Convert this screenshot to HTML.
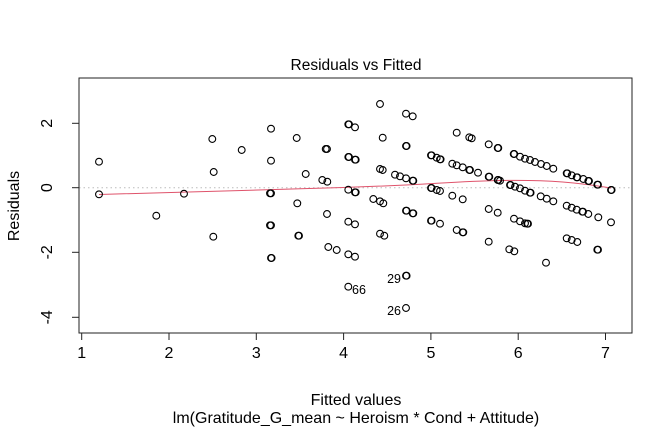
<!DOCTYPE html>
<html><head><meta charset="utf-8"><style>
html,body{margin:0;padding:0;background:#fff}
svg{display:block}
text{font-family:"Liberation Sans",Arial,sans-serif;fill:#000}
</style></head><body>
<svg width="672" height="432" viewBox="0 0 672 432" xmlns="http://www.w3.org/2000/svg">
<rect width="672" height="432" fill="#fff"/>
<text x="356" y="70" font-size="15.5" text-anchor="middle">Residuals vs Fitted</text>
<line x1="79" y1="187.7" x2="632" y2="187.7" stroke="#bbb" stroke-dasharray="1.5,3" stroke-width="1"/>
<rect x="79" y="78" width="553" height="255" fill="none" stroke="#222" stroke-width="1"/>
<g stroke="#222" stroke-width="1">
<line x1="81.7" y1="333" x2="605" y2="333"/>
<line x1="81.7" y1="333" x2="81.7" y2="340"/><line x1="169" y1="333" x2="169" y2="340"/><line x1="256.3" y1="333" x2="256.3" y2="340"/><line x1="343.6" y1="333" x2="343.6" y2="340"/><line x1="430.9" y1="333" x2="430.9" y2="340"/><line x1="518.2" y1="333" x2="518.2" y2="340"/><line x1="605.5" y1="333" x2="605.5" y2="340"/>
<line x1="79" y1="123.3" x2="79" y2="317.3"/>
<line x1="72" y1="123.3" x2="79" y2="123.3"/><line x1="72" y1="187.7" x2="79" y2="187.7"/><line x1="72" y1="252.3" x2="79" y2="252.3"/><line x1="72" y1="317.3" x2="79" y2="317.3"/>
</g>
<g font-size="16" text-anchor="middle">
<text x="81.7" y="358">1</text><text x="169" y="358">2</text><text x="256.3" y="358">3</text><text x="343.6" y="358">4</text><text x="430.9" y="358">5</text><text x="518.2" y="358">6</text><text x="605.5" y="358">7</text>
<text transform="translate(52,123.3) rotate(-90)" x="0" y="0">2</text>
<text transform="translate(52,187.7) rotate(-90)" x="0" y="0">0</text>
<text transform="translate(52,252.3) rotate(-90)" x="0" y="0">-2</text>
<text transform="translate(52,317.3) rotate(-90)" x="0" y="0">-4</text>
<text x="356" y="405">Fitted values</text>
<text x="356" y="423">lm(Gratitude_G_mean ~ Heroism * Cond + Attitude)</text>
<text transform="translate(19,206) rotate(-90)" x="0" y="0">Residuals</text>
</g>
<g font-size="12.5" text-anchor="end">
<text x="352" y="294" text-anchor="start">66</text>
<text x="401" y="283">29</text>
<text x="401" y="315">26</text>
</g>
<path d="M99,194.5 C170,192.5 260,190 343,187.5 S450,181.5 500,180.5 S580,183 611,188" fill="none" stroke="#DF536B" stroke-width="1"/>
<g fill="none" stroke="#000" stroke-width="1.1">
<circle cx="99" cy="161.7" r="3.4"/><circle cx="99" cy="194.3" r="3.4"/><circle cx="156.3" cy="215.7" r="3.4"/><circle cx="184" cy="193.7" r="3.4"/>
<circle cx="212.3" cy="139" r="3.4"/><circle cx="213.7" cy="172" r="3.4"/><circle cx="213.3" cy="236.7" r="3.4"/><circle cx="241.7" cy="150" r="3.4"/>
<circle cx="271" cy="128.7" r="3.4"/><circle cx="271" cy="160.7" r="3.4"/>
<circle cx="270" cy="193.3" r="3.4"/><circle cx="271" cy="193.3" r="3.4"/>
<circle cx="270" cy="225.3" r="3.4"/><circle cx="271" cy="225.3" r="3.4"/>
<circle cx="271" cy="258" r="3.4"/><circle cx="271.6" cy="258" r="3.4"/>
<circle cx="296.7" cy="138" r="3.4"/><circle cx="297.3" cy="203.3" r="3.4"/>
<circle cx="298.3" cy="235.7" r="3.4"/><circle cx="299" cy="235.7" r="3.4"/>
<circle cx="305.7" cy="174" r="3.4"/>
<circle cx="325.7" cy="149" r="3.4"/><circle cx="327" cy="149" r="3.4"/>
<circle cx="322.3" cy="180" r="3.4"/><circle cx="327.3" cy="181.7" r="3.4"/><circle cx="327" cy="214" r="3.4"/><circle cx="328.3" cy="247" r="3.4"/><circle cx="336.7" cy="250" r="3.4"/>
<circle cx="348.3" cy="124.3" r="3.4"/><circle cx="349" cy="124.3" r="3.4"/><circle cx="355" cy="127.3" r="3.4"/>
<circle cx="380" cy="104" r="3.4"/><circle cx="406" cy="113.7" r="3.4"/><circle cx="412.7" cy="116.3" r="3.4"/>
<circle cx="382.7" cy="137.7" r="3.4"/>
<circle cx="406" cy="146" r="3.4"/><circle cx="406.6" cy="146" r="3.4"/>
<circle cx="348.3" cy="157" r="3.4"/><circle cx="349" cy="157" r="3.4"/>
<circle cx="355" cy="159.7" r="3.4"/><circle cx="355.7" cy="159.7" r="3.4"/>
<circle cx="380" cy="169" r="3.4"/><circle cx="382.7" cy="170" r="3.4"/><circle cx="395" cy="174.7" r="3.4"/><circle cx="400" cy="176.3" r="3.4"/><circle cx="406" cy="178.3" r="3.4"/>
<circle cx="412.7" cy="180.7" r="3.4"/><circle cx="413.3" cy="180.7" r="3.4"/>
<circle cx="348.3" cy="189.7" r="3.4"/>
<circle cx="355" cy="192.3" r="3.4"/><circle cx="355.7" cy="192.3" r="3.4"/>
<circle cx="373.3" cy="199" r="3.4"/><circle cx="380" cy="201.3" r="3.4"/><circle cx="383.3" cy="203.3" r="3.4"/>
<circle cx="348.3" cy="221.7" r="3.4"/><circle cx="355" cy="224.3" r="3.4"/>
<circle cx="406" cy="210.7" r="3.4"/><circle cx="406.6" cy="210.7" r="3.4"/>
<circle cx="412.7" cy="213.3" r="3.4"/><circle cx="413.3" cy="213.3" r="3.4"/>
<circle cx="380" cy="233.7" r="3.4"/><circle cx="384.3" cy="235.7" r="3.4"/>
<circle cx="348.3" cy="254.3" r="3.4"/><circle cx="355" cy="256.7" r="3.4"/>
<circle cx="348.3" cy="286.7" r="3.4"/>
<circle cx="406" cy="275.7" r="3.4"/><circle cx="406.6" cy="275.7" r="3.4"/>
<circle cx="406" cy="308" r="3.4"/>
<circle cx="431" cy="155.3" r="3.4"/><circle cx="431.6" cy="155.3" r="3.4"/>
<circle cx="436.7" cy="157.7" r="3.4"/><circle cx="440" cy="159.3" r="3.4"/><circle cx="440.6" cy="159.3" r="3.4"/>
<circle cx="452.3" cy="163.7" r="3.4"/><circle cx="456.7" cy="165.3" r="3.4"/><circle cx="462.7" cy="167.3" r="3.4"/>
<circle cx="469.3" cy="170" r="3.4"/><circle cx="470" cy="170" r="3.4"/><circle cx="478" cy="172.7" r="3.4"/>
<circle cx="456.7" cy="132.7" r="3.4"/><circle cx="469.3" cy="137.3" r="3.4"/><circle cx="471.7" cy="138.3" r="3.4"/>
<circle cx="488.7" cy="144.3" r="3.4"/><circle cx="497.7" cy="148" r="3.4"/><circle cx="498.3" cy="148" r="3.4"/>
<circle cx="488.7" cy="176.7" r="3.4"/><circle cx="489.3" cy="176.7" r="3.4"/>
<circle cx="497.7" cy="180" r="3.4"/><circle cx="498.3" cy="180" r="3.4"/><circle cx="500" cy="180.7" r="3.4"/>
<circle cx="431" cy="188" r="3.4"/><circle cx="431.6" cy="188" r="3.4"/>
<circle cx="436.7" cy="190" r="3.4"/><circle cx="440" cy="191" r="3.4"/><circle cx="452.3" cy="195.7" r="3.4"/><circle cx="462.7" cy="199.3" r="3.4"/>
<circle cx="431" cy="220.7" r="3.4"/><circle cx="431.6" cy="220.7" r="3.4"/><circle cx="440" cy="223.7" r="3.4"/>
<circle cx="456.7" cy="230" r="3.4"/><circle cx="462.7" cy="232.3" r="3.4"/><circle cx="463.3" cy="232.3" r="3.4"/>
<circle cx="488.7" cy="209" r="3.4"/><circle cx="497.7" cy="212.7" r="3.4"/><circle cx="488.7" cy="241.7" r="3.4"/>
<circle cx="509.3" cy="249.3" r="3.4"/><circle cx="514.3" cy="251.3" r="3.4"/>
<circle cx="513.7" cy="154" r="3.4"/><circle cx="514.3" cy="154" r="3.4"/>
<circle cx="520" cy="156.7" r="3.4"/><circle cx="525" cy="158.7" r="3.4"/><circle cx="530" cy="160" r="3.4"/><circle cx="535" cy="162" r="3.4"/><circle cx="541" cy="164" r="3.4"/><circle cx="546.7" cy="166" r="3.4"/><circle cx="553.3" cy="168.7" r="3.4"/>
<circle cx="510" cy="185" r="3.4"/><circle cx="510.6" cy="185" r="3.4"/>
<circle cx="515" cy="186.7" r="3.4"/><circle cx="520" cy="188.3" r="3.4"/><circle cx="525" cy="190.7" r="3.4"/><circle cx="530" cy="192.7" r="3.4"/><circle cx="530.6" cy="192.7" r="3.4"/>
<circle cx="540.7" cy="196.3" r="3.4"/><circle cx="546.7" cy="198.7" r="3.4"/><circle cx="553.3" cy="201.3" r="3.4"/>
<circle cx="514" cy="218.7" r="3.4"/><circle cx="520" cy="221.3" r="3.4"/><circle cx="525" cy="223.3" r="3.4"/><circle cx="527.3" cy="223.7" r="3.4"/><circle cx="528" cy="223.7" r="3.4"/>
<circle cx="546" cy="262.7" r="3.4"/>
<circle cx="566.7" cy="173.3" r="3.4"/><circle cx="567.3" cy="173.3" r="3.4"/><circle cx="571.7" cy="175.3" r="3.4"/><circle cx="576.7" cy="177.3" r="3.4"/><circle cx="577.3" cy="177.3" r="3.4"/><circle cx="583.3" cy="179" r="3.4"/><circle cx="588.3" cy="181" r="3.4"/><circle cx="589" cy="181" r="3.4"/><circle cx="597.3" cy="184.7" r="3.4"/><circle cx="598" cy="184.7" r="3.4"/><circle cx="611" cy="190" r="3.4"/><circle cx="611.6" cy="190" r="3.4"/>
<circle cx="566.7" cy="205.7" r="3.4"/><circle cx="571.7" cy="207.7" r="3.4"/><circle cx="576.7" cy="209.7" r="3.4"/><circle cx="582.3" cy="211.7" r="3.4"/><circle cx="583" cy="211.7" r="3.4"/><circle cx="588.3" cy="214" r="3.4"/><circle cx="598.3" cy="217.3" r="3.4"/><circle cx="611" cy="222.3" r="3.4"/>
<circle cx="566.7" cy="238.3" r="3.4"/><circle cx="571.7" cy="240" r="3.4"/><circle cx="577.3" cy="242" r="3.4"/><circle cx="597.3" cy="249.7" r="3.4"/><circle cx="598" cy="249.7" r="3.4"/>
</g>
</svg>
</body></html>
